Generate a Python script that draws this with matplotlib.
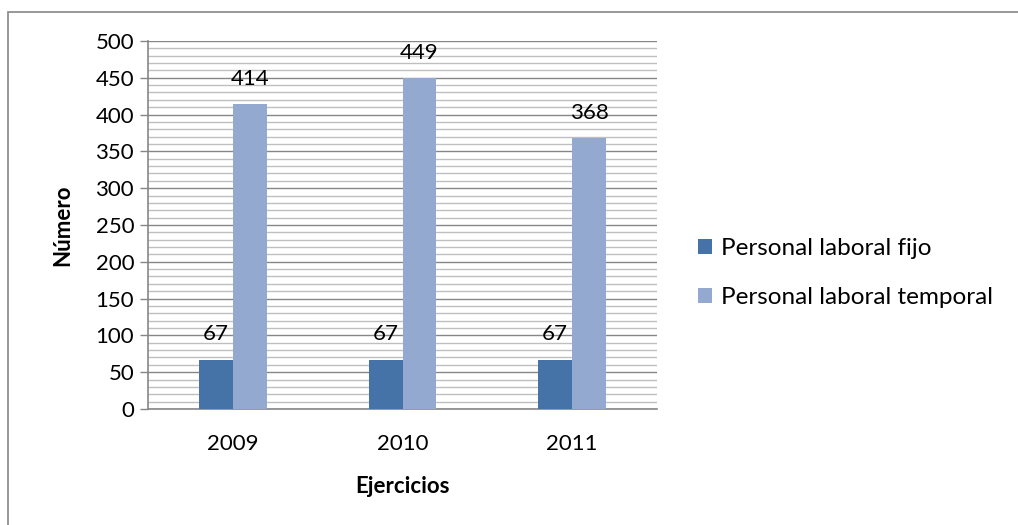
import matplotlib.pyplot as plt
import numpy as np
from matplotlib.patches import Rectangle
from matplotlib.ticker import MultipleLocator

# Staff numbers per year
years = ['2009', '2010', '2011']
fijo = [67, 67, 67]
temporal = [414, 449, 368]
series_names = ['Personal laboral fijo', 'Personal laboral temporal']
colors = ['#4572A7', '#93A9CF']

plt.rcParams['font.family'] = ['Lato', 'DejaVu Sans']
FS = 16

fig = plt.figure(figsize=(10.18, 5.25), dpi=100)
ax = fig.add_axes([0.1454, 0.221, 0.5, 0.701])

x = np.arange(len(years))
w = 0.2
b1 = ax.bar(x - w / 2, fijo, w, color=colors[0], label=series_names[0], zorder=3)
b2 = ax.bar(x + w / 2, temporal, w, color=colors[1], label=series_names[1], zorder=3)

# value labels above each bar
for bars in (b1, b2):
    for rect in bars:
        h = rect.get_height()
        ax.annotate(f'{h:.0f}', (rect.get_x() + rect.get_width() / 2, h),
                    xytext=(0, 11), textcoords='offset points',
                    ha='center', va='bottom', fontsize=FS, color='black')

ax.set_xlim(-0.5, len(years) - 0.5)
ax.set_ylim(0, 500)
ax.yaxis.set_major_locator(MultipleLocator(50))
ax.yaxis.set_minor_locator(MultipleLocator(10))
ax.grid(which='major', axis='y', color='#868686', linewidth=1.0, zorder=0)
ax.grid(which='minor', axis='y', color='#BFBFBF', linewidth=1.0, zorder=0)
ax.set_axisbelow(True)

ax.set_xticks(x)
ax.set_xticklabels(years)
ax.tick_params(axis='x', length=0, pad=18, labelsize=FS)
ax.tick_params(axis='y', which='major', length=6, width=1, color='#868686',
               labelsize=FS, pad=4)
ax.tick_params(axis='y', which='minor', length=0)

for side in ('top', 'right'):
    ax.spines[side].set_visible(False)
for side in ('left', 'bottom'):
    ax.spines[side].set_color('#868686')
    ax.spines[side].set_linewidth(1.2)

ax.set_ylabel('Número', fontsize=FS, fontweight='bold', labelpad=16)
ax.set_xlabel('Ejercicios', fontsize=FS, fontweight='bold', labelpad=16)

leg = fig.legend(handles=[b1, b2], loc='center left',
                 bbox_to_anchor=(0.664, 0.48), frameon=False, fontsize=17.5,
                 handlelength=0.6, handleheight=0.6, handletextpad=0.35,
                 labelspacing=1.15)

# outer chart border
fig.patches.append(Rectangle((8 / 1018, -0.1), 1.2, 1.1 - 12 / 525,
                             transform=fig.transFigure, fill=False,
                             edgecolor='#868686', linewidth=1.2))

fig.savefig('out.png', dpi=100)
